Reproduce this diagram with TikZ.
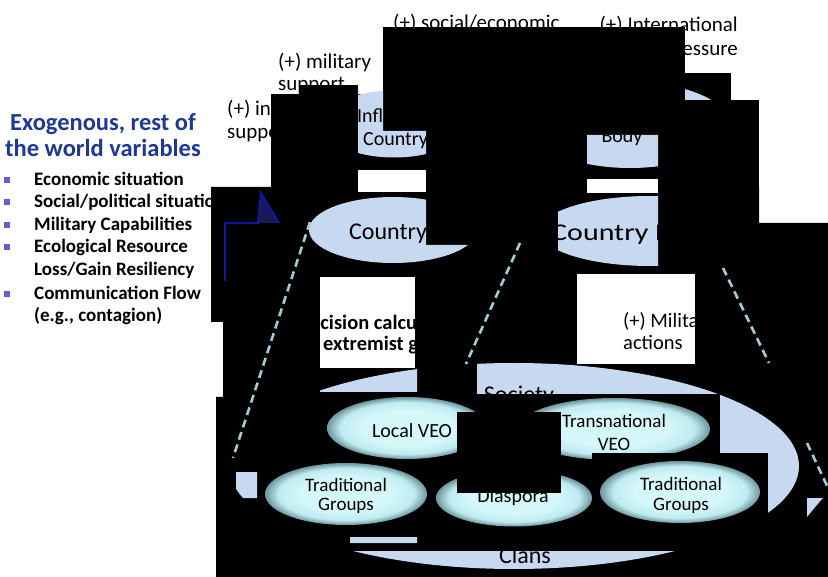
\documentclass[tikz,border=0pt]{standalone}
\usepackage{fontspec}
\setmainfont{Carlito}
\usetikzlibrary{shapes.geometric}
\definecolor{lblue}{RGB}{198,217,241}
\definecolor{navytxt}{RGB}{31,56,150}
\definecolor{bulletc}{RGB}{96,96,210}
\definecolor{dashc}{RGB}{158,206,214}
\definecolor{gin}{RGB}{214,247,250}
\definecolor{gmid}{RGB}{190,235,240}
\definecolor{gout}{RGB}{110,150,156}
\definecolor{arrowc}{RGB}{20,20,160}
\definecolor{arrowf}{RGB}{25,25,90}
\pgfdeclareradialshading{glossy}{\pgfpoint{0bp}{0bp}}{color(0bp)=(gin); color(14bp)=(gin); color(21bp)=(gmid); color(25bp)=(gout); color(50bp)=(gout)}
\begin{document}
\begin{tikzpicture}[x=1pt,y=-1pt,
  lab/.style={anchor=base west, inner sep=0, font=\fontsize{21}{25}\selectfont},
  ttl/.style={anchor=base, inner sep=0, text=navytxt, font=\fontsize{24.5}{28}\selectfont\bfseries},
  btx/.style={anchor=base west, inner sep=0, font=\fontsize{19}{22}\selectfont\bfseries},
  bul/.style={rectangle, fill=bulletc, minimum size=5.5pt, inner sep=0},
  ell/.style={ellipse, inner sep=0, fill=lblue},
  etxt/.style={inner sep=0, font=\fontsize{20}{24}\selectfont},
  ctxt/.style={inner sep=0, anchor=base west, font=\fontsize{24}{28}\selectfont},
  gl/.style={ellipse, inner sep=0, shade, shading=glossy},
  gtxt/.style={inner sep=0, anchor=base, font=\fontsize{19}{23}\selectfont},
  wbox/.style={rectangle, fill=white, inner sep=0},
  dsh/.style={draw=dashc, line width=2.6pt, dash pattern=on 8pt off 5pt},
  btxt/.style={anchor=base west, inner sep=0, font=\fontsize{20.5}{24}\selectfont\bfseries}]
\useasboundingbox (0,0) rectangle (828,577);
\fill[white] (0,0) rectangle (828,577);

% left panel
\node[ttl] (t1) at (103,131) {Exogenous, rest of};
\node[ttl] (t2) at (103,157) {the world variables};
\node[bul] (b1) at (7,180) {};
\node[bul] (b2) at (7,202) {};
\node[bul] (b3) at (7,225) {};
\node[bul] (b4) at (7,247) {};
\node[bul] (b5) at (7,294) {};
\node[btx] (e1) at (34,186) {Economic situation};
\node[btx] (e2) at (34,208) {Social/political situation};
\node[btx] (e3) at (34,231) {Military Capabilities};
\node[btx] (e4) at (34,253) {Ecological Resource};
\node[btx] (e5) at (34,276) {Loss/Gain Resiliency};
\node[btx] (e6) at (34,300) {Communication Flow};
\node[btx] (e7) at (34,322) {(e.g., contagion)};

% top labels
\node[lab] (l1) at (393,30) {(+) social/economic};
\node[lab, anchor=base east] (l2a) at (738,32) {(+) International};
\node[lab, anchor=base east] (l2b) at (738,56) {pressure};
\node[lab] (l3a) at (278,69) {(+) military};
\node[lab] (l3b) at (278,91) {support};
\node[lab] (l4a) at (227,116) {(+) intelligence};
\node[lab] (l4b) at (227,139) {support};

% black regions
\fill[black] (383,27) rectangle (685,131);
\fill[black] (426,27) rectangle (587,200);
\fill[black] (685,73) rectangle (731,100);
\fill[black] (658,100) rectangle (759,187);
\fill[black] (299,85) rectangle (358,94);
\fill[black] (271,94) rectangle (426,200);
\fill[black] (587,131) rectangle (658,200);
\fill[black] (211,187) -- (759,187) -- (759,223) -- (828,223) -- (828,577) -- (216,577) -- (216,397) -- (223,397) -- (223,322) -- (211,322) -- cycle;
\fill[white] (358,170) rectangle (426,192);
\fill[white] (587,179) rectangle (658,193);

% Influencing Country
\begin{scope}
\clip (358,80) rectangle (383,131) (358,131) rectangle (426,169);
\node[ell, minimum width=144pt, minimum height=67pt] (ic) at (394,124) {};
\node[etxt, anchor=base west] (ic1) at (357,123) {Influencing};
\node[etxt, anchor=base west] (ic2) at (363,146) {Country};
\end{scope}

% International Body
\begin{scope}
\clip (587,135) rectangle (658,178) (685,73) rectangle (731,100);
\node[ell, minimum width=200pt, minimum height=86pt] (ib) at (630,125) {};
\node[etxt, anchor=base] (ib1) at (622,120) {International};
\node[etxt, anchor=base] (ib2) at (622,143) {Body};
\end{scope}

% Country A
\begin{scope}
\clip (300,190) rectangle (426,275) (426,245) rectangle (490,275);
\node[ell, minimum width=168pt, minimum height=66pt] (ca) at (393,230) {};
\node[ctxt] (cat) at (349,240) {Country A};
\end{scope}

% Country B
\begin{scope}
\clip (558,197) rectangle (658,275);
\node[ell, minimum width=220pt, minimum height=70pt] (cb) at (650,231) {};
\node[ctxt] (cbt) at (551,241) {\scalebox{1.25}[1]{Country B}};
\end{scope}

% Society
\begin{scope}
\clip (320,355) rectangle (417,392) (477,355) rectangle (720,394) (720,355) rectangle (828,453)
      (768,453) rectangle (828,530) (236,472) rectangle (257,498) (350,551) rectangle (722,577)
      (350,537) rectangle (417,543);
\node[ell, minimum width=570pt, minimum height=206pt] (so) at (514,466) {};
\node[ctxt, anchor=base] (sot) at (519,403) {Society};
\node[ctxt, anchor=base] (clt) at (525,563) {Clans};
\end{scope}
\fill[lblue] (807,498) -- (823,498) .. controls (816,506) .. (807,517) -- cycle;

% glossy groups
\node[gl, minimum width=160pt, minimum height=62pt] (lv) at (407,428) {};
\node[gtxt, font=\fontsize{20}{24}\selectfont] (lvt) at (412,438) {Local VEO};
\node[gl, minimum width=192pt, minimum height=62pt] (tv) at (614,429) {};
\node[gtxt] (tvt1) at (614,428) {Transnational};
\node[gtxt] (tvt2) at (614,450) {VEO};
\fill[black] (592,453) rectangle (768,527);
\node[gl, minimum width=162pt, minimum height=62pt] (tl) at (346,494) {};
\node[gtxt] (tlt1) at (346,491) {Traditional};
\node[gtxt] (tlt2) at (346,511) {Groups};
\node[gl, minimum width=156pt, minimum height=57pt] (di) at (514,498) {};
\node[gtxt, font=\fontsize{20}{24}\selectfont] (dit) at (513,502) {Diaspora};
\node[gl, minimum width=160pt, minimum height=62pt] (tr) at (680,492) {};
\node[gtxt] (trt1) at (681,490) {Traditional};
\node[gtxt] (trt2) at (681,511) {Groups};
\fill[black] (457,412) rectangle (561,493);

% white boxes
\node[wbox, minimum width=95pt, minimum height=91pt] (wb1) at (367.5,322.5) {};
\begin{scope}
\clip (320,277) rectangle (415,368);
\node[btxt] (dc1) at (297,330) {Decision calculus of};
\node[btxt] (dc2) at (323,351) {extremist groups};
\end{scope}
\node[wbox, minimum width=118pt, minimum height=90pt] (wb2) at (636,319) {};
\begin{scope}
\clip (577,274) rectangle (695,364);
\node[etxt, anchor=base west, font=\fontsize{20.5}{24}\selectfont] (ma1) at (623,328) {(+) Military};
\node[etxt, anchor=base west, font=\fontsize{20.5}{24}\selectfont] (ma2) at (623,350) {actions};
\end{scope}

% dashed zoom lines
\coordinate (d1s) at (310,222); \coordinate (d1e) at (233,458);
\coordinate (d2s) at (520,243); \coordinate (d2e) at (466,364);
\coordinate (d3s) at (723,268); \coordinate (d3e) at (769,363);
\coordinate (d4s) at (807,443); \coordinate (d4e) at (829,490);
\draw[dsh] (d1s) -- (d1e);
\draw[dsh] (d2s) -- (d2e);
\draw[dsh] (d3s) -- (d3e);
\draw[dsh] (d4s) -- (d4e);

% navy arrow fragment
\coordinate (n1) at (225,281); \coordinate (n2) at (225,223);
\coordinate (n3) at (258,223); \coordinate (n4) at (261,193);
\coordinate (n5) at (279,223);
\fill[arrowf] (n3) -- (n4) -- (n5) -- cycle;
\draw[arrowc, line width=2pt] (n1) -- (n2) -- (n3) -- (n4) -- (n5);
\end{tikzpicture}
\end{document}
